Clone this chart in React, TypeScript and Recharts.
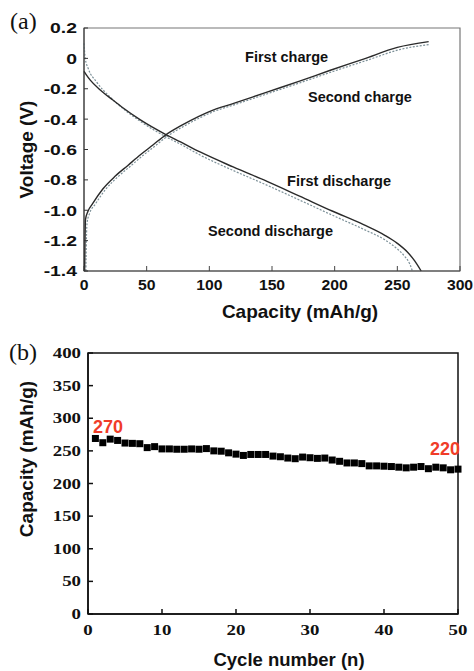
import React from "react";
import {
  LineChart,
  Line,
  XAxis,
  YAxis,
  ReferenceArea,
  ReferenceDot,
  ScatterChart,
  Scatter,
} from "recharts";

const SANS = '"Liberation Sans", Arial, sans-serif';
const SERIF = '"Liberation Serif", "Times New Roman", serif';

// (a) charge / discharge curves, capacity in mAh/g and voltage in V
const firstChargeCap = [0.5, 0.8, 1.2, 3, 7, 15, 25, 35, 45, 55, 65, 77, 92, 100, 120, 146, 172, 196, 223, 250, 275];
const firstChargeV = [-1.4, -1.2, -1.06, -1.01, -0.955, -0.86, -0.775, -0.705, -0.635, -0.57, -0.505, -0.445, -0.38, -0.35, -0.295, -0.222, -0.15, -0.08, -0.005, 0.072, 0.11];

const secondChargeCap = [1.5, 1.9, 2.5, 4.5, 9, 17, 27, 37, 47, 57, 67, 79, 94, 102, 122, 148, 174, 198, 225, 252, 276];
const secondChargeV = [-1.4, -1.2, -1.08, -1.02, -0.96, -0.865, -0.78, -0.71, -0.64, -0.575, -0.51, -0.45, -0.385, -0.355, -0.3, -0.228, -0.156, -0.088, -0.015, 0.058, 0.092];

const firstDischargeCap = [0, 2, 5, 13, 23, 31, 45, 65, 77, 93, 119, 146, 172, 198, 223, 240, 250, 258, 264, 269];
const firstDischargeV = [-0.085, -0.11, -0.143, -0.208, -0.274, -0.325, -0.405, -0.5, -0.55, -0.618, -0.715, -0.81, -0.907, -1.005, -1.095, -1.165, -1.218, -1.275, -1.335, -1.4];

const secondDischargeCap = [0, 1, 3.4, 10, 20.7, 31, 45, 65, 77, 93, 119, 146, 172, 198, 223, 240, 250, 256, 260, 262];
const secondDischargeV = [0.1, 0.0, -0.067, -0.155, -0.254, -0.33, -0.415, -0.515, -0.565, -0.638, -0.738, -0.835, -0.933, -1.032, -1.125, -1.195, -1.255, -1.305, -1.355, -1.4];

const capacityTicks = [0, 50, 100, 150, 200, 250, 300];
const voltageTicks = [0.2, 0.1, 0, -0.1, -0.2, -0.3, -0.4, -0.5, -0.6, -0.7, -0.8, -0.9, -1.0, -1.1, -1.2, -1.3, -1.4];
const voltageLabels = [0.2, 0, -0.2, -0.4, -0.6, -0.8, -1.0, -1.2, -1.4];

// (b) cycling
const cycleNumbers = [1, 2, 3, 4, 5, 6, 7, 8, 9, 10, 11, 12, 13, 14, 15, 16, 17, 18, 19, 20, 21, 22, 23, 24, 25, 26, 27, 28, 29, 30, 31, 32, 33, 34, 35, 36, 37, 38, 39, 40, 41, 42, 43, 44, 45, 46, 47, 48, 49, 50];
const cycleCapacity = [269, 262.5, 268, 266, 262, 261.5, 261, 255, 256.5, 253, 253, 252.5, 252.5, 253, 252.5, 253.5, 250, 249.5, 247, 245, 243, 244.5, 244.5, 244.5, 242, 241, 239, 238, 240.5, 239.5, 238.5, 239, 236, 234, 231.5, 231.5, 230.5, 227, 227, 226.5, 226, 225, 224, 225, 226, 222.7, 225, 224, 221, 222];
const cycleTicks = [0, 10, 20, 30, 40, 50];
const capTicksB = [0, 50, 100, 150, 200, 250, 300, 350, 400];

const toPoints = (caps: number[], volts: number[]) => caps.map((cap, i) => ({ cap, v: volts[i] }));
const cycleData = cycleNumbers.map((n, i) => ({ n, c: cycleCapacity[i] }));

const fmtVolt = (v: number) => {
  if (!voltageLabels.some((l) => Math.abs(l - v) < 1e-6)) return "";
  return Math.abs(v) < 1e-6 ? "0" : v.toFixed(1);
};

// tick text in the figure is wider than it is tall, so stretch it horizontally
function StretchTick(props: any) {
  const { x, y, payload, textAnchor, tFamily, tSize, tScale, tDy, tFormat } = props;
  const label = tFormat ? tFormat(payload.value) : String(payload.value);
  if (!label) return <g />;
  return (
    <g transform={`translate(${x},${y}) scale(${tScale},1)`}>
      <text x={0} y={0} dy={tDy} textAnchor={textAnchor} fontFamily={tFamily} fontWeight="bold" fontSize={tSize} fill="#111">
        {label}
      </text>
    </g>
  );
}

const textShape = (text: string, color: string, size: number) => (p: any) => (
  <text x={p.cx} y={p.cy} dy="0.35em" fontFamily={SANS} fontWeight="bold" fontSize={size} fill={color}>
    {text}
  </text>
);

function VoltageChart() {
  return (
    <LineChart width={474} height={340} margin={{ top: 28, right: 14, bottom: 9, left: 0 }}>
      <ReferenceArea x1={0} x2={300} y1={-1.4} y2={0.2} fill="none" stroke="#777" strokeWidth={1.2} />
      <XAxis
        type="number"
        dataKey="cap"
        domain={[0, 300]}
        ticks={capacityTicks}
        height={60}
        stroke="#444"
        tickSize={-5}
        tickMargin={13.5}
        tick={<StretchTick tFamily={SANS} tSize={15} tScale={1.05} tDy="0.71em" />}
        label={(p: any) => (
          <text x={p.viewBox.x + p.viewBox.width / 2 + 28} y={p.viewBox.y + 47} textAnchor="middle" fontFamily={SANS} fontWeight="bold" fontSize={19} fill="#111">
            Capacity (mAh/g)
          </text>
        )}
      />
      <YAxis
        type="number"
        domain={[-1.4, 0.2]}
        ticks={voltageTicks}
        width={84}
        stroke="#333"
        tickSize={-4}
        tickMargin={11}
        tick={<StretchTick tFamily={SANS} tSize={15.5} tScale={1.25} tDy="0.35em" tFormat={fmtVolt} />}
        label={(p: any) => {
          const cx = p.viewBox.x + 26;
          const cy = p.viewBox.y + p.viewBox.height / 2;
          return (
            <text x={cx} y={cy} dy="0.35em" transform={`rotate(-90, ${cx}, ${cy})`} textAnchor="middle" fontFamily={SANS} fontWeight="bold" fontSize={19} fill="#111">
              Voltage (V)
            </text>
          );
        }}
      />
      <Line data={toPoints(secondChargeCap, secondChargeV)} dataKey="v" type="monotone" stroke="#7d9199" strokeWidth={1.2} strokeDasharray="2 1.5" dot={false} isAnimationActive={false} />
      <Line data={toPoints(secondDischargeCap, secondDischargeV)} dataKey="v" type="monotone" stroke="#7d9199" strokeWidth={1.2} strokeDasharray="2 1.5" dot={false} isAnimationActive={false} />
      <Line data={toPoints(firstChargeCap, firstChargeV)} dataKey="v" type="monotone" stroke="#2a2a2a" strokeWidth={1.4} dot={false} isAnimationActive={false} />
      <Line data={toPoints(firstDischargeCap, firstDischargeV)} dataKey="v" type="monotone" stroke="#2a2a2a" strokeWidth={1.4} dot={false} isAnimationActive={false} />
      <ReferenceDot x={128.5} y={0.009} shape={textShape("First charge", "#111", 14.5)} />
      <ReferenceDot x={178.7} y={-0.254} shape={textShape("Second charge", "#111", 14.5)} />
      <ReferenceDot x={162} y={-0.807} shape={textShape("First discharge", "#111", 14.5)} />
      <ReferenceDot x={99} y={-1.136} shape={textShape("Second discharge", "#111", 14.5)} />
    </LineChart>
  );
}

function CycleChart() {
  return (
    <ScatterChart width={474} height={336} margin={{ top: 18, right: 16, bottom: 0, left: 0 }}>
      <ReferenceArea x1={0} x2={50} y1={0} y2={400} fill="none" stroke="#111" strokeWidth={1.5} />
      <XAxis
        type="number"
        dataKey="n"
        domain={[0, 50]}
        ticks={cycleTicks}
        height={57}
        stroke="#111"
        strokeWidth={1.5}
        tickSize={-5}
        tickMargin={16}
        tick={<StretchTick tFamily={SERIF} tSize={14.5} tScale={1.3} tDy="0.71em" />}
        label={(p: any) => (
          <text x={p.viewBox.x + p.viewBox.width / 2 + 16} y={p.viewBox.y + 52} textAnchor="middle" fontFamily={SANS} fontWeight="bold" fontSize={18.5} fill="#111">
            Cycle number (n)
          </text>
        )}
      />
      <YAxis
        type="number"
        dataKey="c"
        domain={[0, 400]}
        ticks={capTicksB}
        width={88}
        stroke="#111"
        strokeWidth={1.5}
        tickSize={-5}
        tickMargin={12}
        tick={<StretchTick tFamily={SERIF} tSize={14.5} tScale={1.3} tDy="0.35em" />}
        label={(p: any) => {
          const cx = p.viewBox.x + 26;
          const cy = p.viewBox.y + 106;
          return (
            <text x={cx} y={cy} dy="0.35em" transform={`rotate(-90, ${cx}, ${cy})`} textAnchor="middle" fontFamily={SANS} fontWeight="bold" fontSize={19} fill="#111">
              Capacity (mAh/g)
            </text>
          );
        }}
      />
      <Scatter
        data={cycleData}
        isAnimationActive={false}
        shape={(p: any) => <rect x={p.cx - 3.5} y={p.cy - 3.5} width={7} height={7} fill="#000" />}
      />
      <ReferenceDot x={0.68} y={286.6} shape={textShape("270", "#f03c28", 18)} />
      <ReferenceDot x={46.2} y={252.9} shape={textShape("220", "#f03c28", 18)} />
    </ScatterChart>
  );
}

export default function App() {
  const panelLabel: React.CSSProperties = {
    position: "absolute",
    fontFamily: SERIF,
    fontSize: 24,
    lineHeight: "24px",
    color: "#111",
  };
  return (
    <div style={{ position: "absolute", left: 0, top: 0, width: 474, height: 671, background: "#fff", overflow: "hidden" }}>
      <div style={{ position: "absolute", left: 0, top: 0 }}>
        <VoltageChart />
      </div>
      <div style={{ position: "absolute", left: 0, top: 335 }}>
        <CycleChart />
      </div>
      <div style={{ ...panelLabel, left: 10, top: 9 }}>(a)</div>
      <div style={{ ...panelLabel, left: 9, top: 340 }}>(b)</div>
    </div>
  );
}
